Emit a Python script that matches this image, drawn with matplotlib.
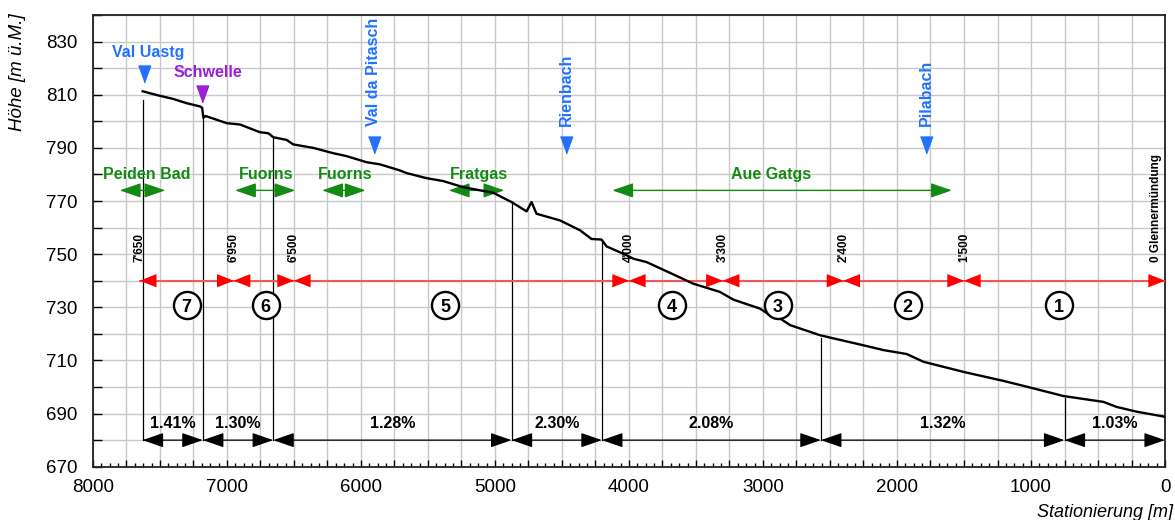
import matplotlib
matplotlib.use("Agg")
import matplotlib.pyplot as plt
from matplotlib.ticker import MultipleLocator, FuncFormatter

plt.rcParams['font.family'] = ['Liberation Sans', 'DejaVu Sans']

# Laengenprofil: Stationierung [m] und Sohlenhoehe [m ue.M.]
station = [7629, 7525, 7400, 7300, 7201, 7185, 7176, 7160, 7002, 6903, 6754, 6691,
           6654, 6555, 6505, 6356, 6207, 6108, 5958, 5858, 5709, 5659, 5510, 5386,
           5237, 5013, 4876, 4764, 4727, 4690, 4515, 4366, 4279, 4205, 4167, 4018,
           3968, 3868, 3670, 3521, 3322, 3222, 3022, 2948, 2873, 2798, 2575, 2500,
           2276, 2102, 1927, 1803, 1505, 1206, 1007, 758, 460, 361, 211, 0]
hoehe = [811.3, 809.9, 808.4, 806.8, 805.6, 805.1, 801.3, 802.0, 799.3, 798.8, 795.9, 795.5,
         794.0, 793.0, 791.3, 790.0, 788.0, 786.9, 784.6, 783.8, 781.5, 780.5, 778.6, 777.5,
         775.2, 773.1, 769.6, 766.1, 769.6, 765.2, 762.7, 759.0, 755.7, 755.5, 752.9, 749.6,
         748.3, 747.0, 742.4, 738.9, 735.8, 732.9, 729.5, 727.0, 725.8, 723.3, 719.5, 718.6,
         716.0, 713.9, 712.4, 709.5, 705.7, 702.3, 699.8, 696.6, 694.4, 692.5, 690.7, 688.8]

# Gefaellsabschnitte (unten, schwarz)
drop_st = [7630, 7180, 6655, 4876, 4202, 2568, 750]
drop_top = [808.1, 801.5, 794.0, 769.6, 755.5, 718.3, 695.7]
slope_bounds = [7630, 7180, 6655, 4876, 4202, 2568, 750, 0]
slope_labels = ["1.41%", "1.30%", "1.28%", "2.30%", "2.08%", "1.32%", "1.03%"]

# Abschnitte (rot)
sect_bounds = [7650, 6950, 6500, 4000, 3300, 2400, 1500, 0]
sect_text = ["7'650", "6'950", "6'500", "4'000", "3'300", "2'400", "1'500", "0 Glennermündung"]
sect_no = ["7", "6", "5", "4", "3", "2", "1"]
sect_no_x = [7300, 6710, 5370, 3680, 2890, 1920, 790]

# Ortsbezeichnungen (gruen)
place_names = ["Peiden Bad", "Fuorns", "Fuorns", "Fratgas", "Aue Gatgs"]
place_from = [7800, 6940, 6290, 5345, 4125]
place_to = [7460, 6490, 5965, 4930, 1590]
place_label_x = [7600, 6710, 6115, 5120, 2940]

# Seitenbaeche (blau) und Schwelle
creek_names = ["Val da Pitasch", "Rienbach", "Pilabach"]
creek_st = [5905, 4470, 1780]
uastg_st = 7620
schwelle_st = 7184

blue = '#2272ff'
purple = '#9a1fd6'
green = '#138a13'
red = '#ff0000'

fig = plt.figure(figsize=(11.75, 5.2), dpi=100)
ax = fig.add_axes([0.0791, 0.1025, 0.9124, 0.8686])
ax.set_xlim(8000, 0)
ax.set_ylim(670, 840)

ax.xaxis.set_major_locator(MultipleLocator(250))
ax.xaxis.set_minor_locator(MultipleLocator(62.5))
ax.xaxis.set_major_formatter(FuncFormatter(lambda v, p: f"{abs(v):.0f}" if abs(v % 1000) < 1e-6 else ""))
ax.yaxis.set_major_locator(MultipleLocator(10))
ax.yaxis.set_major_formatter(FuncFormatter(lambda v, p: f"{v:.0f}" if abs((v - 670) % 20) < 1e-6 else ""))
ax.tick_params(axis='x', which='major', direction='in', length=5, width=1, pad=9, labelsize=13.5)
ax.tick_params(axis='x', which='minor', direction='in', length=3, width=1)
ax.tick_params(axis='y', which='major', direction='in', length=6.5, width=1, pad=11, labelsize=13.5)
ax.grid(True, which='major', color='#c8c8c8', lw=1)
ax.set_axisbelow(True)
for s in ax.spines.values():
    s.set_linewidth(1.3)
    s.set_color('#222222')

# Profil
ax.plot(station, hoehe, color='black', lw=1.7, zorder=4)

# senkrechte Linien bis zur Gefaellsachse
for x, top in zip(drop_st, drop_top):
    ax.plot([x, x], [680, top], color='black', lw=0.9, zorder=3)

# Gefaellspfeile
for i in range(len(slope_labels)):
    ax.annotate('', xy=(slope_bounds[i + 1], 680), xytext=(slope_bounds[i], 680),
                arrowprops=dict(arrowstyle='<|-|>,head_length=1.3,head_width=0.45',
                                color='black', lw=0.9, shrinkA=0, shrinkB=0, mutation_scale=10))
    ax.text((slope_bounds[i] + slope_bounds[i + 1]) / 2, 686.4, slope_labels[i],
            ha='center', va='center', fontsize=11.5, fontweight='bold')

# Abschnitte rot
ax.plot([sect_bounds[0], sect_bounds[-1]], [740, 740], color='#f25858', lw=1.5, zorder=3)
for i in range(len(sect_no)):
    ax.annotate('', xy=(sect_bounds[i + 1], 740), xytext=(sect_bounds[i], 740),
                arrowprops=dict(arrowstyle='<|-|>,head_length=1.2,head_width=0.48',
                                color=red, lw=0, shrinkA=0, shrinkB=0, mutation_scale=10))
for x, t in zip(sect_bounds[:-1], sect_text[:-1]):
    ax.text(x, 747, t, rotation=90, ha='center', va='bottom', fontsize=8.5, fontweight='bold')
ax.text(sect_bounds[-1] + 20, 747, sect_text[-1], rotation=90, ha='right', va='bottom',
        fontsize=8.5, fontweight='bold')

ax.plot(sect_no_x, [730.8] * len(sect_no_x), 'o', ms=19.5, mfc='white', mec='black', mew=1.7, zorder=5)
for x, t in zip(sect_no_x, sect_no):
    ax.text(x, 730.8, t, ha='center', va='center_baseline', fontsize=13, fontweight='bold', zorder=6)

# Orte gruen
for name, a, b, lx in zip(place_names, place_from, place_to, place_label_x):
    ax.annotate('', xy=(b, 774), xytext=(a, 774),
                arrowprops=dict(arrowstyle='<|-|>,head_length=1.3,head_width=0.45',
                                color=green, lw=1, shrinkA=0, shrinkB=0, mutation_scale=10))
    ax.text(lx, 780, name, ha='center', va='center', fontsize=11.5, fontweight='bold', color=green)

# Seitenbaeche
tri = [(-0.36, 0.5), (0.36, 0.5), (0, -0.5)]
ax.plot([uastg_st], [817.8], marker=tri, ms=12.2, color=blue, ls='none', zorder=5)
ax.text(7590, 825.8, "Val Uastg", ha='center', va='center', fontsize=11.5, fontweight='bold', color=blue)
ax.plot([schwelle_st], [810.2], marker=tri, ms=12.2, color=purple, ls='none', zorder=5)
ax.text(7142, 818.3, "Schwelle", ha='center', va='center', fontsize=11.5, fontweight='bold', color=purple)
for name, x in zip(creek_names, creek_st):
    ax.plot([x], [790.9], marker=tri, ms=12.2, color=blue, ls='none', zorder=5)
    ax.text(x, 798.4, name, rotation=90, ha='center', va='bottom', fontsize=11.5,
            fontweight='bold', color=blue)

ax.text(-0.07, 0.874, "Höhe [m ü.M.]", transform=ax.transAxes, rotation=90,
        ha='center', va='center', fontsize=13.5, style='italic')
ax.text(1.0075, -0.1025, "Stationierung [m]", transform=ax.transAxes,
        ha='right', va='center', fontsize=13, style='italic')

fig.savefig('out.png', dpi=100)
